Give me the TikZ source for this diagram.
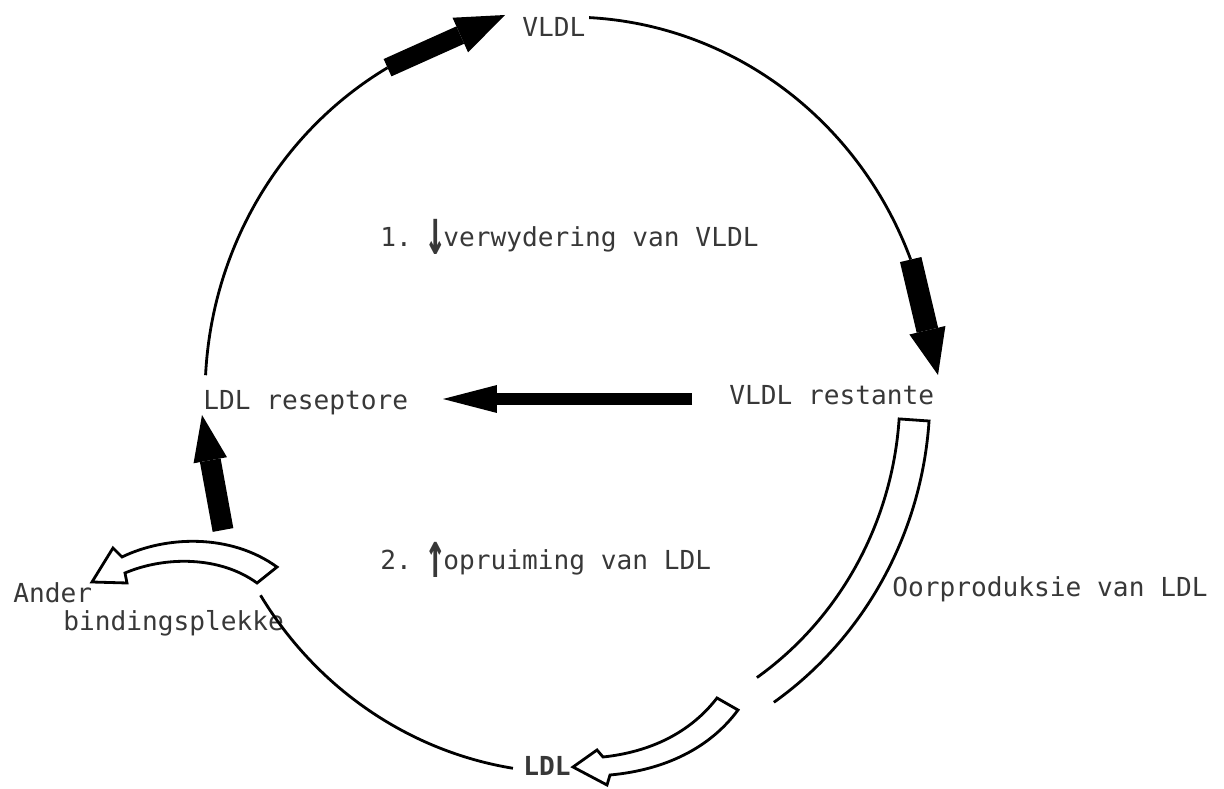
\documentclass[tikz,border=0pt]{standalone}
\usepackage{fontspec}
\usepackage{graphicx}
\setmonofont{DejaVu Sans Mono}
\usetikzlibrary{arrows.meta}

\newcommand{\arrdown}{\makebox[0.6em][c]{\raisebox{-4pt}{\scalebox{1.3}[2.5]{\textbf{↓}}}}}
\newcommand{\arrup}{\makebox[0.6em][c]{\raisebox{-4pt}{\scalebox{1.3}[2.5]{\textbf{↑}}}}}

\begin{document}
\begin{tikzpicture}[
						x=0.02cm,
						y=0.02cm,
						lbl/.style={font=\ttfamily\fontsize{14.9pt}{18pt}\selectfont, text=black!78, inner sep=0pt, anchor=base west},
						ring/.style={line width=1.6pt},
						orbit/.style={x radius=7.3cm, y radius=7.56cm},
						fat/.style n args={3}{line width=#1, -{Triangle[length=#2, width=#3, line width=0pt]}},
						hollow/.style={line width=1.6pt, line join=miter}
					]
					\useasboundingbox (0,0) rectangle (1224,788);

					\node[lbl] (vldl) at (522,751) {VLDL};
					\node[lbl] (verw) at (380,541) {1. \arrdown verwydering van VLDL};
					\node[lbl] (reseptore) at (203,378) {LDL reseptore};
					\node[lbl] (restante) at (729,383) {VLDL restante};
					\node[lbl] (opruim) at (380,218) {2. \arrup opruiming van LDL};
					\node[lbl] (ander) at (13,185) {Ander};
					\node[lbl] (binding) at (63,157) {bindingsplekke};
					\node[lbl] (oorprod) at (892,191) {Oorproduksie van LDL};
					\node[lbl, font=\ttfamily\bfseries\fontsize{14.9pt}{18pt}\selectfont] (ldl) at (523,13) {LDL};

					\coordinate (C) at (570,393);
					\path (C) ++(177:7.3cm and 7.56cm) coordinate (a1);
					\path (C) ++(120:7.3cm and 7.56cm) coordinate (a2);
					\path (C) ++(87:7.3cm and 7.56cm) coordinate (b1);
					\path (C) ++(21:7.3cm and 7.56cm) coordinate (b2);
					\path (C) ++(212:7.3cm and 7.56cm) coordinate (c1);
					\coordinate (tip1) at (505,773);
					\coordinate (tip2) at (938,413);
					\coordinate (h1) at (692,389);
					\coordinate (h2) at (443,389);
					\coordinate (p1) at (223,258);
					\coordinate (p2) at (202,373);

					\draw[ring] (a1) arc[orbit, start angle=177, end angle=120];
					\draw[ring] (b1) arc[orbit, start angle=87, end angle=21];
					\draw[ring] (c1) arc[orbit, start angle=212, end angle=261];

					\draw[fat={0.38cm}{0.98cm}{0.76cm}] (a2) -- (tip1);
					\draw[fat={0.44cm}{0.92cm}{0.74cm}] (b2) -- (tip2);
					\draw[fat={0.24cm}{1.08cm}{0.56cm}] (h1) -- (h2);
					\draw[fat={0.42cm}{0.92cm}{0.68cm}] (p1) -- (p2);

					\path (C) ++(-55.5:6.6cm and 6.86cm) coordinate (o1);
					\path (C) ++(-4:7.2cm and 7.46cm) coordinate (o2);
					\draw[hollow] (o1) arc[start angle=-55.5, end angle=-4, x radius=6.6cm, y radius=6.86cm]
						-- (o2) arc[start angle=-4, end angle=-55.5, x radius=7.2cm, y radius=7.46cm];
					\draw[hollow, fill=white] (717,90) .. controls (690,55) and (650,36) .. (603,31)
						-- (597,38) -- (573,21) -- (607,3) -- (610,13)
						.. controls (665,18) and (710,40) .. (738,78) -- cycle;
					\draw[hollow, fill=white] (277,221) .. controls (230,255) and (165,252) .. (122,231)
						-- (113,240) -- (92,206) -- (127,205) -- (125,215)
						.. controls (165,232) and (220,232) .. (257,205) -- cycle;
\end{tikzpicture}
\end{document}
